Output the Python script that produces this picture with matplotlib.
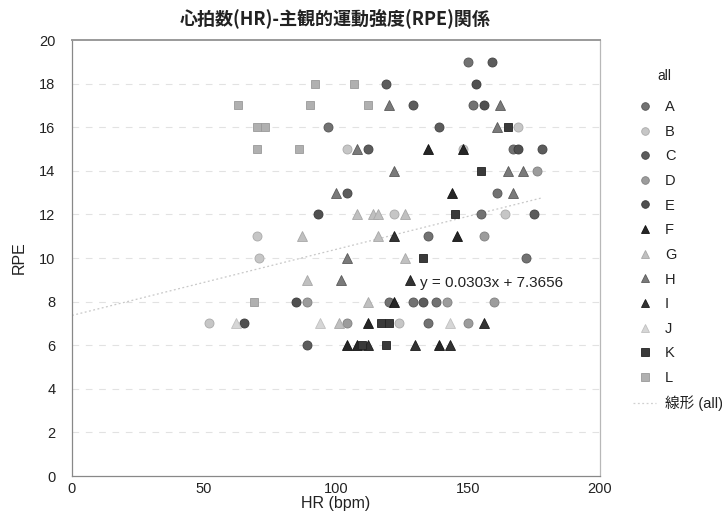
import matplotlib
matplotlib.use("Agg")
import matplotlib.pyplot as plt
from matplotlib.lines import Line2D

plt.rcParams['font.family'] = ['Liberation Sans', 'Noto Sans CJK JP', 'DejaVu Sans']

title = "心拍数(HR)-主観的運動強度(RPE)関係"
xlabel = "HR (bpm)"
ylabel = "RPE"
trend_label = "線形 (all)"
legend_title = "all"

names = ["A", "B", "C", "D", "E", "F", "G", "H", "I", "J", "K", "L"]

hr_A = [150, 152, 97, 167, 161, 155, 135, 172, 120, 129, 138, 135]
rpe_A = [19, 17, 16, 15, 13, 12, 11, 10, 8, 8, 8, 7]
hr_B = [169, 104, 148, 122, 164, 70, 71, 52, 124]
rpe_B = [16, 15, 15, 12, 12, 11, 10, 7, 7]
hr_C = [159, 119, 129, 139, 112, 178, 104, 175, 133, 89]
rpe_C = [19, 18, 17, 16, 15, 15, 13, 12, 8, 6]
hr_D = [176, 156, 89, 142, 160, 104, 150]
rpe_D = [14, 11, 8, 8, 8, 7, 7]
hr_E = [153, 156, 169, 93, 85, 65]
rpe_E = [18, 17, 15, 12, 8, 7]
hr_F = [135, 148, 144, 146, 122, 112, 104, 108, 139]
rpe_F = [15, 15, 13, 11, 8, 7, 6, 6, 6]
hr_G = [108, 114, 116, 126, 87, 116, 126, 89, 112, 101]
rpe_G = [12, 12, 12, 12, 11, 11, 10, 9, 8, 7]
hr_H = [120, 162, 161, 108, 165, 171, 122, 100, 167, 104, 102]
rpe_H = [17, 17, 16, 15, 14, 14, 14, 13, 13, 10, 9]
hr_I = [122, 128, 156, 130, 143, 112]
rpe_I = [11, 9, 7, 6, 6, 6]
hr_J = [62, 94, 143]
rpe_J = [7, 7, 7]
hr_K = [165, 155, 145, 133, 117, 120, 110, 119]
rpe_K = [16, 14, 12, 10, 7, 7, 6, 6]
hr_L = [92, 107, 63, 90, 112, 70, 73, 70, 86, 69]
rpe_L = [18, 18, 17, 17, 17, 16, 16, 15, 15, 8]

trend_slope = 0.0303
trend_intercept = 7.3656
trend_x_range = [0, 178]

x_ticks = [0, 50, 100, 150, 200]
y_ticks = [0, 2, 4, 6, 8, 10, 12, 14, 16, 18, 20]

hr_all = [hr_A, hr_B, hr_C, hr_D, hr_E, hr_F, hr_G, hr_H, hr_I, hr_J, hr_K, hr_L]
rpe_all = [rpe_A, rpe_B, rpe_C, rpe_D, rpe_E, rpe_F, rpe_G, rpe_H, rpe_I, rpe_J, rpe_K, rpe_L]

styles = {
    "A": ("o", "#727272", "#555555"),
    "B": ("o", "#c6c6c6", "#aaaaaa"),
    "C": ("o", "#5c5c5c", "#444444"),
    "D": ("o", "#9c9c9c", "#808080"),
    "E": ("o", "#505050", "#3a3a3a"),
    "F": ("^", "#262626", "#111111"),
    "G": ("^", "#c0c0c0", "#a8a8a8"),
    "H": ("^", "#7a7a7a", "#5a5a5a"),
    "I": ("^", "#333333", "#1a1a1a"),
    "J": ("^", "#d6d6d6", "#c0c0c0"),
    "K": ("s", "#3a3a3a", "#222222"),
    "L": ("s", "#b0b0b0", "#999999"),
}

fig = plt.figure(figsize=(7.22, 5.31), dpi=100)
ax = fig.add_axes([72/722, 1-476/531, (600-72)/722, (476-40)/531])

ax.set_xlim(0, 200)
ax.set_ylim(0, 20)
ax.set_xticks(x_ticks)
ax.set_yticks(y_ticks)
ax.tick_params(axis='both', labelsize=10.5, length=0, colors='#222222')
ax.tick_params(axis='x', pad=4)
ax.tick_params(axis='y', pad=12)
for t in y_ticks[1:-1]:
    ax.axhline(t, color='#e2e2e2', lw=0.8, ls=(0, (6, 6)), zorder=0)
for side in ['top', 'right']:
    ax.spines[side].set_color('#b8b8b8')
    ax.spines[side].set_linewidth(0.9)
for side in ['left', 'bottom']:
    ax.spines[side].set_color('#888888')
    ax.spines[side].set_linewidth(0.9)
ax.spines['top'].set_color('#9a9a9a')
ax.spines['top'].set_linewidth(1.4)

# trend line
tx = trend_x_range
ty = [trend_slope * v + trend_intercept for v in tx]
ax.plot(tx, ty, color='#c8c8c8', lw=0.9, ls=(0, (1.5, 2)), zorder=1)

handles = []
for name, xs, ys in zip(names, hr_all, rpe_all):
    m, fc, ec = styles[name]
    ms = 6.5 if m != "s" else 6
    ax.plot(xs, ys, ls='none', marker=m, ms=ms, mfc=fc, mec=ec, mew=0.6, zorder=3)
    handles.append(Line2D([], [], ls='none', marker=m, ms=5.5, mfc=fc, mec=ec, mew=0.6))
handles.append(Line2D([], [], color='#d0d0d0', lw=0.9, ls=(0, (1.5, 2))))

ax.text(132, 8.85, "y = 0.0303x + 7.3656", fontsize=11, color='#222222',
        va='center', ha='left', zorder=4)

ax.set_xlabel(xlabel, fontsize=11.5, labelpad=0, color='#222222')
ax.set_ylabel(ylabel, fontsize=11.5, labelpad=9, color='#222222')
fig.text(335/722, 1-18/531, title, fontsize=13, ha='center', va='center',
         family=['Noto Sans CJK JP', 'DejaVu Sans'], color='#222222', fontweight='bold')

leg = fig.legend(handles, names + [trend_label], loc='upper left',
                 bbox_to_anchor=(633/722, 1-100/531), frameon=False,
                 fontsize=10.5, labelspacing=0.73, handlelength=1.6,
                 handletextpad=0.6, borderpad=0, borderaxespad=0)
for t in leg.get_texts():
    t.set_color('#222222')
fig.text(657/722, 1-76/531, legend_title, fontsize=10, ha='left', va='center', color='#222222')

fig.savefig("out.png", dpi=100)
